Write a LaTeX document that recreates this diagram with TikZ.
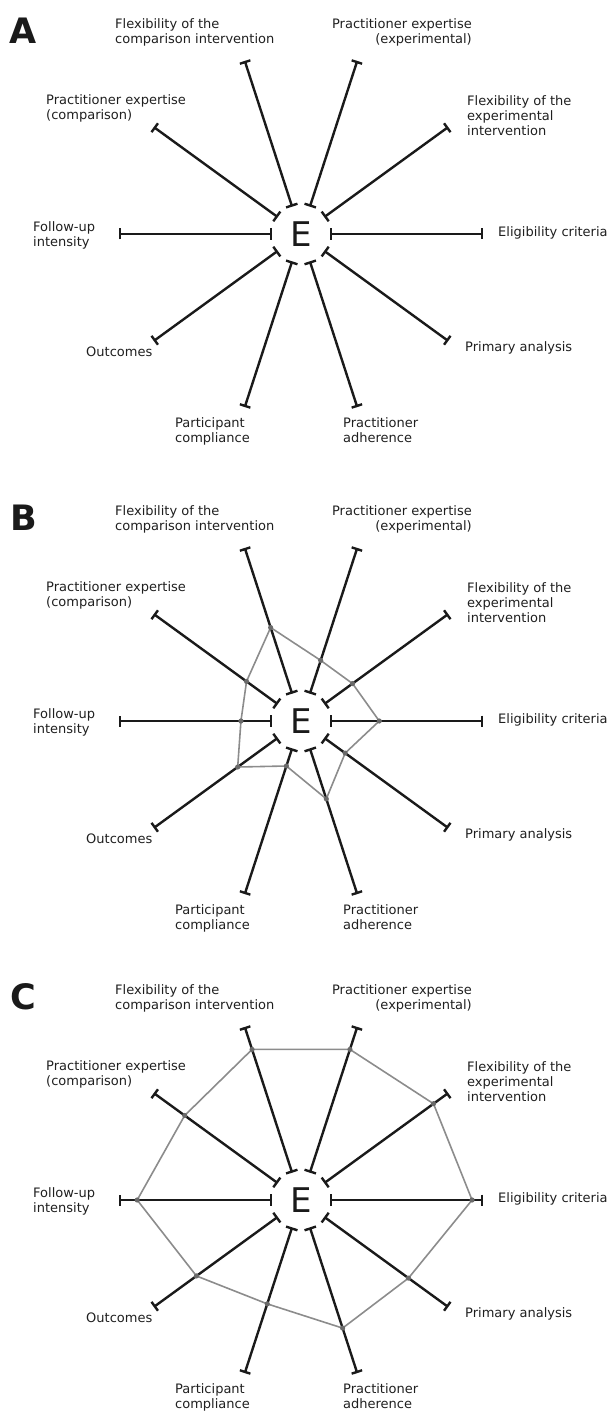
\documentclass[tikz,border=0pt]{standalone}
\usepackage{fontspec}
\setmainfont{DejaVu Sans}
\usepackage{tikz}
\usetikzlibrary{arrows.meta}
\definecolor{ink}{HTML}{1a1a1a}
\definecolor{textgrey}{HTML}{1f1f1f}
\definecolor{score}{HTML}{8c8c8c}
\definecolor{scoredot}{HTML}{6a6a6a}

\begin{document}
\begin{tikzpicture}[x=1pt, y=1pt,
    spoke/.style={ink, line width=2.4pt, arrows={Bar[width=12pt]-Bar[width=11pt]}},
    hub/.style={circle, minimum size=57pt, inner sep=0pt, text=ink, font=\fontsize{34}{34}\selectfont},
    dimlabel/.style={inner sep=0pt, text=textgrey, font=\fontsize{13}{15}\selectfont},
    panellabel/.style={inner sep=0pt, text=ink, font=\fontsize{35}{35}\selectfont\bfseries},
    profile/.style={score, line width=1.6pt, line join=round}]
  \useasboundingbox (0,0) rectangle (613,-1412);
  \foreach \pan/\cy in {A/234, B/721, C/1200} {
    \node[hub] (\pan-E) at (301,-\cy) {E};
    \node[panellabel] (\pan-letter) at (23.5,{-(\cy-203.5)}) {\pan};
    \foreach \i in {0,...,9} {
      \path (\pan-E.center) ++(\i*36:182) coordinate (\pan-tip\i);
      \draw[spoke] (\pan-E) -- (\pan-tip\i);
    }
    % dimension labels, offsets from the hub
    \foreach \nm/\dx/\dy/\anc/\al/\txt in {
        flexcomp/-186/-215.5/north west/left/{Flexibility of the\\comparison intervention},
        pracexp/171/-215.5/north east/right/{Practitioner expertise\\(experimental)},
        praccomp/-255/-139.5/north west/left/{Practitioner expertise\\(comparison)},
        flexexp/166/-138.5/north west/left/{Flexibility of the\\experimental\\intervention},
        followup/-268/-12.5/north west/left/{Follow-up\\intensity},
        elig/197/-7.5/north west/left/{Eligibility criteria},
        outcomes/-215/113/north west/left/{Outcomes},
        primary/164/107.5/north west/left/{Primary analysis},
        compliance/-126/183/north west/left/{Participant\\compliance},
        adherence/42/183/north west/left/{Practitioner\\adherence}}
      \node[dimlabel, anchor=\anc, align=\al] (\pan-\nm) at ({301+\dx},{-(\cy+\dy)}) {\txt};
  }
  % scored profiles for B and C
  \foreach \pan/\vals in {B/{0.43,0.35,0.35,0.54,0.37,0.33,0.43,0.26,0.45,0.30},
                          C/{0.94,0.90,0.87,0.87,0.79,0.90,0.71,0.60,0.74,0.73}} {
    \foreach \f [count=\k from 0] in \vals
      \path (\pan-E.center) ++(\k*36:\f*182) coordinate (\pan-p\k);
    \draw[profile] (\pan-p0) \foreach \k in {1,...,9} {-- (\pan-p\k)} -- cycle;
    \foreach \k in {0,...,9}
      \fill[scoredot] (\pan-p\k) circle (2.6);
  }
\end{tikzpicture}
\end{document}
